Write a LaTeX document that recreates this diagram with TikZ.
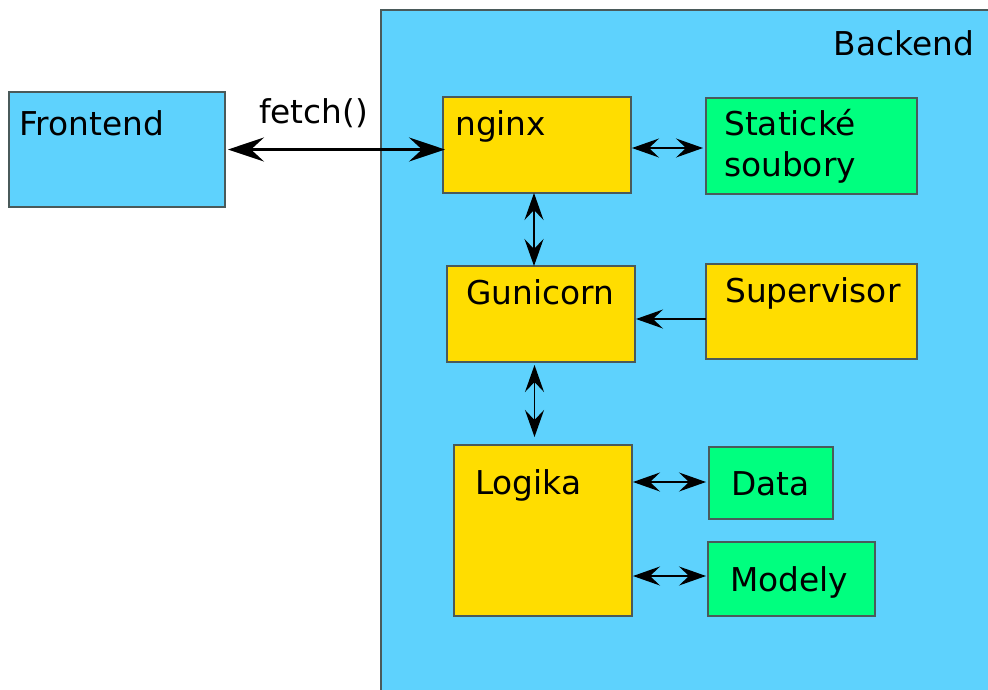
\documentclass[tikz,border=0pt]{standalone}
\usepackage{fontspec}
\setmainfont{DejaVu Sans}
\usetikzlibrary{arrows.meta}
\definecolor{skyb}{HTML}{5ED2FD}
\definecolor{gold}{HTML}{FFDD00}
\definecolor{mint}{HTML}{00FF7F}
\definecolor{edge}{HTML}{4A5A5A}
\begin{document}
\begin{tikzpicture}[x=1pt,y=-1pt,
  box/.style={draw=edge,line width=1.2pt,inner sep=0pt,outer sep=0pt,anchor=north west},
  lbl/.style={inner sep=0pt,anchor=base west,font=\fontsize{32.8}{38}\selectfont},
  arr/.style={{Stealth[length=27pt,width=19pt,inset=10pt]}-{Stealth[length=27pt,width=19pt,inset=10pt]},line width=1.5pt},
  sarr/.style={-{Stealth[length=27pt,width=19pt,inset=10pt]},line width=1.5pt},
  farr/.style={{Stealth[length=36pt,width=24pt,inset=13pt]}-{Stealth[length=36pt,width=24pt,inset=13pt]},line width=2.3pt}]
\useasboundingbox (0,0) rectangle (988,689);
\clip (0,0) rectangle (988,689);
\fill[white] (0,0) rectangle (988,689);
% backend
\node[box,fill=skyb,minimum width=640pt,minimum height=700pt] (back) at (381,10) {};
\node[lbl,anchor=base east] (tback) at (974,55) {Backend};
% frontend
\node[box,fill=skyb,minimum width=216pt,minimum height=115pt] (front) at (9,92) {};
\node[lbl] (tfront) at (19,135) {Frontend};
% boxes
\node[box,fill=gold,minimum width=188pt,minimum height=96pt] (nginx) at (443,97) {};
\node[lbl] (tnginx) at (455,135) {nginx};
\node[box,fill=mint,minimum width=211pt,minimum height=96pt] (stat) at (706,98) {};
\node[lbl] (tstat1) at (724,135) {Statické};
\node[lbl] (tstat2) at (724,176) {soubory};
\node[box,fill=gold,minimum width=188pt,minimum height=96pt] (gun) at (447,266) {};
\node[lbl] (tgun) at (466,304) {Gunicorn};
\node[box,fill=gold,minimum width=211pt,minimum height=95pt] (sup) at (706,264) {};
\node[lbl] (tsup) at (725,302) {Supervisor};
\node[box,fill=gold,minimum width=178pt,minimum height=171pt] (logika) at (454,445) {};
\node[lbl] (tlog) at (475,494) {Logika};
\node[box,fill=mint,minimum width=124pt,minimum height=72pt] (data) at (709,447) {};
\node[lbl] (tdata) at (731,495) {Data};
\node[box,fill=mint,minimum width=167pt,minimum height=74pt] (modely) at (708,542) {};
\node[lbl] (tmod) at (730,591) {Modely};
% fetch
\node[lbl] (tfetch) at (259,123) {fetch()};
\draw[farr,shorten <=3pt,shorten >=-2pt] (front.east) -- (front.east -| nginx.west);
% connectors
\draw[arr,shorten <=1pt,shorten >=3pt] ([yshift=-3pt]nginx.east) -- ([yshift=-3pt]nginx.east -| stat.west);
\draw[arr] ([xshift=-3pt]nginx.south) -- ([xshift=-3pt]nginx.south |- gun.north);
\draw[sarr,shorten >=1pt] ([yshift=-7.5pt]sup.west) -- ([yshift=-7.5pt]sup.west -| gun.east);
\draw[arr,shorten <=3pt,shorten >=8pt] ([xshift=-6.5pt]gun.south) -- ([xshift=-6.5pt]gun.south |- logika.north);
\draw[arr,shorten <=1pt,shorten >=3pt] ([yshift=1pt]data.west -| logika.east) -- ([yshift=1pt]data.west);
\draw[arr,shorten <=1pt,shorten >=2pt] ([yshift=3pt]modely.west -| logika.east) -- ([yshift=3pt]modely.west);
\end{tikzpicture}
\end{document}
